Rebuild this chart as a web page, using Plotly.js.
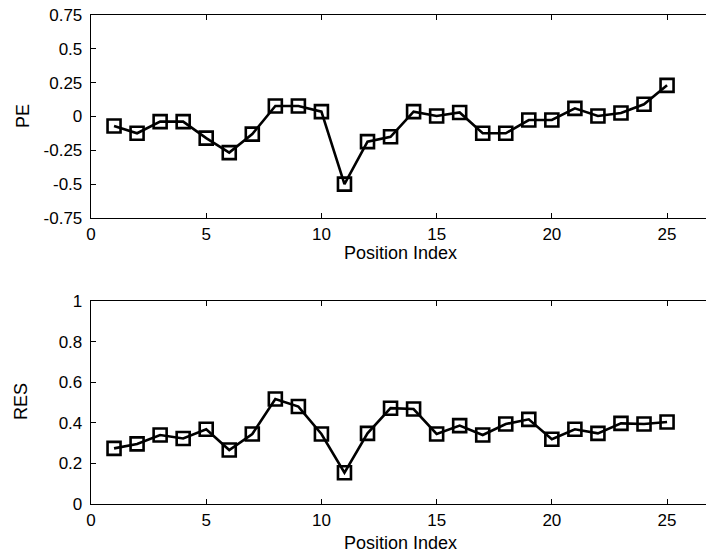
<!DOCTYPE html>
<html>
<head>
<meta charset="utf-8">
<script src="https://cdn.plot.ly/plotly-3.0.1.min.js"></script>
<style>html,body{margin:0;padding:0;background:#fff;}#chart{width:706px;height:556px;}</style>
</head>
<body>
<div id="chart"></div>
<script>
const positions = [1,2,3,4,5,6,7,8,9,10,11,12,13,14,15,16,17,18,19,20,21,22,23,24,25];
const peValues = [-0.07,-0.124,-0.038,-0.038,-0.16,-0.267,-0.13,0.078,0.078,0.036,-0.50,-0.186,-0.15,0.036,0.004,0.03,-0.124,-0.124,-0.026,-0.026,0.06,0.004,0.026,0.09,0.23];
const resValues = [0.274,0.296,0.34,0.323,0.368,0.266,0.345,0.517,0.48,0.345,0.154,0.348,0.472,0.468,0.345,0.386,0.34,0.394,0.417,0.319,0.368,0.348,0.397,0.394,0.404];
const xTickVals = [0,5,10,15,20,25];
const peTickVals = [-0.75,-0.5,-0.25,0,0.25,0.5,0.75];
const peTickText = ['-0.75','-0.5','-0.25','0','0.25','0.5','0.75'];
const resTickVals = [0,0.2,0.4,0.6,0.8,1];
const resTickText = ['0','0.2','0.4','0.6','0.8','1'];
const xTitle = 'Position Index';
const peTitle = 'PE';
const resTitle = 'RES';

const fontFam = 'Arial, "Liberation Sans", Helvetica, sans-serif';
const FS = 17;
const lineStyle = {color:'#000', width:2.6};
const markerStyle = {symbol:'square-open', size:13, color:'#000', line:{color:'#000', width:2.6}};

const traces = [
  {x:positions, y:peValues, type:'scatter', mode:'lines+markers', line:lineStyle, marker:markerStyle, xaxis:'x', yaxis:'y', hoverinfo:'skip'},
  {x:positions, y:resValues, type:'scatter', mode:'lines+markers', line:lineStyle, marker:markerStyle, xaxis:'x2', yaxis:'y2', hoverinfo:'skip'}
];

const W = 706, H = 556;
function xAxis(anchor){
  return {
    anchor:anchor, domain:[0,1], range:[0,26.69],
    tickmode:'array', tickvals:xTickVals, ticktext:xTickVals.map(String),
    ticks:'inside', ticklen:5, tickwidth:1, tickcolor:'#000',
    showline:true, linecolor:'#000', linewidth:1.3, mirror:'ticks',
    showgrid:false, zeroline:false,
    tickfont:{family:fontFam, size:FS, color:'#000'},
    automargin:false
  };
}
function yAxis(anchor, domainPx, range, vals, text){
  return {
    anchor:anchor, domain:[1-domainPx[1]/H, 1-domainPx[0]/H], range:range,
    tickmode:'array', tickvals:vals, ticktext:text,
    ticks:'inside', ticklen:5, tickwidth:1, tickcolor:'#000',
    showline:true, linecolor:'#000', linewidth:1.3, mirror:false,
    showgrid:false, zeroline:false, ticklabelstandoff:4,
    tickfont:{family:fontFam, size:FS, color:'#000'},
    automargin:false
  };
}
const titleFont = {family:fontFam, size:18, color:'#000'};
function ann(text, px, py, angle){
  return {text:text, xref:'paper', yref:'paper', x:(px-91)/(W-91), y:1-py/H,
          xanchor:'center', yanchor:'middle', showarrow:false, textangle:angle, font:titleFont};
}

const layout = {
  width:W, height:H,
  margin:{l:91, r:0, t:0, b:0},
  paper_bgcolor:'#fff', plot_bgcolor:'#fff',
  showlegend:false,
  xaxis: xAxis('y'),
  yaxis: yAxis('x', [15,218], [-0.75,0.75], peTickVals, peTickText),
  xaxis2: xAxis('y2'),
  yaxis2: yAxis('x2', [301,504], [0,1], resTickVals, resTickText),
  annotations:[
    ann(xTitle, 400, 253, 0),
    ann(xTitle, 400, 543, 0),
    ann(peTitle, 23, 116, -90),
    ann(resTitle, 21, 402, -90)
  ]
};

Plotly.newPlot('chart', traces, layout, {displayModeBar:false, staticPlot:true});
</script>
</body>
</html>
